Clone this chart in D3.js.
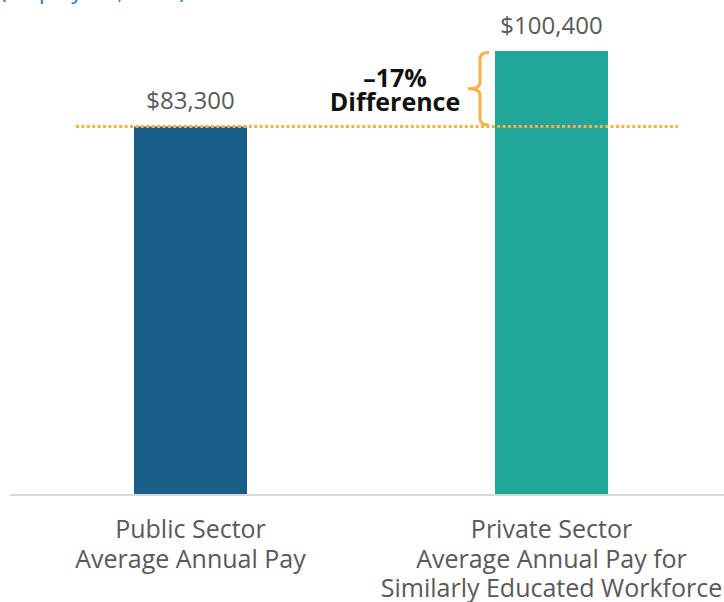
<!DOCTYPE html>
<html>
<head>
<meta charset="utf-8">
<script src="https://cdn.jsdelivr.net/npm/d3@7"></script>
<style>
  body { margin: 0; background: #fff; }
  svg { display: block; font-family: "Open Sans", "Noto Sans", sans-serif; }
</style>
</head>
<body>
<div id="chart"></div>
<script>
const categories = ["Public Sector", "Private Sector"];
const categoryLines = [
  ["Public Sector", "Average Annual Pay"],
  ["Private Sector", "Average Annual Pay for", "Similarly Educated Workforce"]
];
const pay = [83300, 100400];
const payLabels = ["$83,300", "$100,400"];
const differenceLabel = ["\u201317%", "Difference"];
const colors = ["#185e89", "#20a799"];

const width = 724, height = 602;
const baseY = 494;

const svg = d3.select("#chart")
  .append("svg")
    .attr("width", width)
    .attr("height", height);

// cut-off title line at the very top
svg.append("text")
    .attr("x", 0)
    .attr("y", -1)
    .attr("font-size", 22)
    .attr("fill", "#2479b0")
    .text("(Employees, 2019)");

const x = d3.scaleBand()
    .domain(categories)
    .range([10, 732])
    .paddingInner(0.687)
    .paddingOuter(0.3435);

const y = d3.scaleLinear()
    .domain([0, 100400])
    .range([baseY, 51]);

// baseline
svg.append("line")
    .attr("x1", 10)
    .attr("x2", width)
    .attr("y1", baseY + 1)
    .attr("y2", baseY + 1)
    .attr("stroke", "#d9d9d9")
    .attr("stroke-width", 2);

svg.selectAll(".bar")
  .data(pay)
  .enter()
  .append("rect")
    .attr("class", "bar")
    .attr("x", (d, i) => x(categories[i]))
    .attr("y", d => y(d))
    .attr("width", x.bandwidth())
    .attr("height", d => baseY - y(d))
    .attr("fill", (d, i) => colors[i]);

// dotted reference line at public pay level
svg.append("line")
    .attr("x1", 76)
    .attr("x2", 678)
    .attr("y1", y(pay[0]))
    .attr("y2", y(pay[0]))
    .attr("stroke", "#f7b246")
    .attr("stroke-width", 3)
    .attr("stroke-dasharray", "3,2.4");

svg.selectAll(".val")
  .data(pay)
  .enter()
  .append("text")
    .attr("class", "val")
    .attr("x", (d, i) => x(categories[i]) + x.bandwidth() / 2)
    .attr("y", d => y(d) - 17)
    .attr("text-anchor", "middle")
    .attr("font-size", 24)
    .attr("fill", "#595959")
    .text((d, i) => payLabels[i]);

// bracket
const bx = 480, bTop = y(pay[1]), bBot = y(pay[0]), bMid = (bTop + bBot) / 2;
svg.append("path")
    .attr("d", `M${bx + 9},${bTop + 1.5} Q${bx},${bTop + 1.5} ${bx},${bTop + 8} L${bx},${bMid - 6} Q${bx},${bMid} ${bx - 12},${bMid}`
      + ` M${bx - 12},${bMid} Q${bx},${bMid} ${bx},${bMid + 6} L${bx},${bBot - 8} Q${bx},${bBot - 1.5} ${bx + 9},${bBot - 1.5}`)
    .attr("fill", "none")
    .attr("stroke", "#f7b246")
    .attr("stroke-width", 3);

svg.selectAll(".diff")
  .data(differenceLabel)
  .enter()
  .append("text")
    .attr("class", "diff")
    .attr("x", 395)
    .attr("y", (d, i) => 87 + i * 24)
    .attr("text-anchor", "middle")
    .attr("font-size", 25)
    .attr("font-weight", "bold")
    .attr("fill", "#111")
    .text(d => d);

const cat = svg.selectAll(".cat")
  .data(categoryLines)
  .enter()
  .append("text")
    .attr("class", "cat")
    .attr("text-anchor", "middle")
    .attr("font-size", 25)
    .attr("fill", "#595959");

cat.selectAll("tspan")
  .data((d, i) => d.map(t => ({t, i})))
  .enter()
  .append("tspan")
    .attr("x", d => x(categories[d.i]) + x.bandwidth() / 2)
    .attr("y", (d, j) => 538 + j * 29.5)
    .text(d => d.t);
</script>
</body>
</html>
